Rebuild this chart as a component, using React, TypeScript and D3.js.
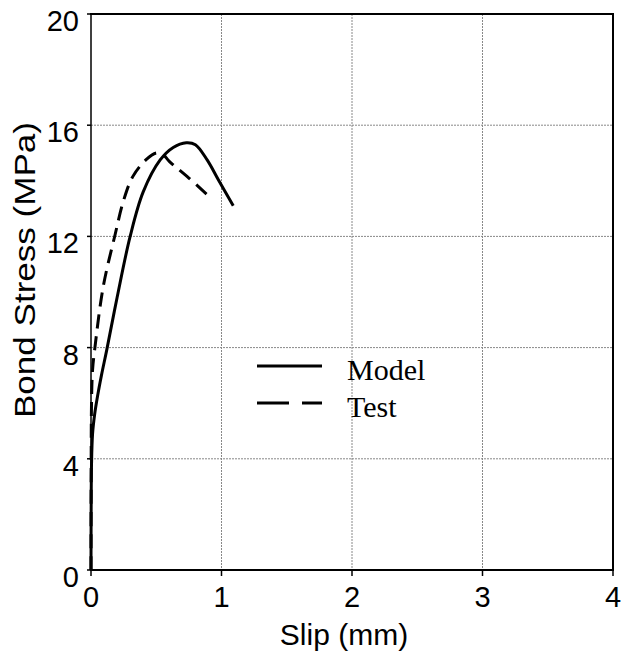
import * as d3 from 'd3'

const width = 622
const height = 664
const margin = { left: 91, right: 9, top: 14, bottom: 94 }

const xTicks = [0, 1, 2, 3, 4]
const yTicks = [0, 4, 8, 12, 16, 20]

// slip (mm) / bond stress (MPa)
const modelSlip = [0, 0.001, 0.004, 0.012, 0.028, 0.05, 0.08, 0.12, 0.2, 0.3, 0.4, 0.53, 0.63, 0.73, 0.8, 0.89, 0.98, 1.09]
const modelStress = [0, 2, 3.8, 4.9, 5.6, 6.25, 7.0, 7.9, 9.8, 12.0, 13.6, 14.75, 15.2, 15.37, 15.3, 14.75, 14.0, 13.1]

const testSlip = [0, 0.001, 0.004, 0.012, 0.03, 0.094, 0.184, 0.25, 0.32, 0.42, 0.5, 0.55, 0.6, 0.75, 0.89]
const testStress = [0, 3, 6, 7.2, 8.0, 10.2, 12.05, 13.3, 14.15, 14.75, 15.0, 14.95, 14.7, 14.1, 13.5]

const seriesNames = ['Model', 'Test']

const sans = 'Liberation Sans, Arial, sans-serif'
const serif = 'Liberation Serif, Times New Roman, serif'

export default function App() {
  const x = d3.scaleLinear().domain([0, 4]).range([margin.left, width - margin.right])
  const y = d3.scaleLinear().domain([0, 20]).range([height - margin.bottom, margin.top])

  const line = d3
    .line<[number, number]>()
    .x((d) => x(d[0]))
    .y((d) => y(d[1]))
    .curve(d3.curveCatmullRom.alpha(0.5))

  const model = modelSlip.map((s, i) => [s, modelStress[i]] as [number, number])
  const test = testSlip.map((s, i) => [s, testStress[i]] as [number, number])

  const x0 = x(0)
  const x1 = x(4)
  const y0 = y(0)
  const y1 = y(20)

  return (
    <svg
      width={width}
      height={height}
      style={{ position: 'absolute', left: 0, top: 0, background: '#fff' }}
    >
      {/* grid */}
      <g stroke="#888" strokeWidth={1} strokeDasharray="2,1">
        {xTicks.slice(1, -1).map((t) => (
          <line key={t} x1={x(t)} x2={x(t)} y1={y1} y2={y0} />
        ))}
        {yTicks.slice(1, -1).map((t) => (
          <line key={t} x1={x0} x2={x1} y1={y(t)} y2={y(t)} />
        ))}
      </g>

      {/* frame */}
      <g stroke="#000" fill="none">
        <line x1={x0} x2={x0} y1={y1} y2={y0} strokeWidth={1.5} />
        <line x1={x0 - 1} x2={x1 + 1} y1={y1} y2={y1} strokeWidth={2} />
        <line x1={x0 - 1} x2={x1 + 1} y1={y0} y2={y0} strokeWidth={2} />
        <line x1={x1} x2={x1} y1={y1} y2={y0} strokeWidth={2} />
      </g>
      <g stroke="#000" strokeWidth={1.5}>
        {xTicks.map((t) => (
          <line key={t} x1={x(t)} x2={x(t)} y1={y0} y2={y0 + 6} />
        ))}
        {yTicks.map((t) => (
          <line key={t} x1={x0 - 4} x2={x0} y1={y(t)} y2={y(t)} />
        ))}
      </g>

      {/* tick labels */}
      <g fontFamily={sans} fontSize={29} fill="#000">
        {xTicks.map((t) => (
          <text key={t} x={x(t)} y={y0 + 37} textAnchor="middle">
            {t}
          </text>
        ))}
        {yTicks.map((t) => (
          <text key={t} x={x0 - 12} y={y(t) + 17} textAnchor="end">
            {t}
          </text>
        ))}
      </g>

      {/* axis titles */}
      <text x={344} y={645} textAnchor="middle" fontFamily={sans} fontSize={30}>
        Slip (mm)
      </text>
      <text
        transform={`translate(35,270) rotate(-90)`}
        textAnchor="middle"
        fontFamily={sans}
        fontSize={30}
        textLength={296}
        lengthAdjust="spacingAndGlyphs"
      >
        Bond Stress (MPa)
      </text>

      {/* curves */}
      <path d={line(model) ?? ''} fill="none" stroke="#000" strokeWidth={3} />
      <path d={line(test) ?? ''} fill="none" stroke="#000" strokeWidth={3} strokeDasharray="14,8" />

      {/* legend */}
      <g>
        {seriesNames.map((name, i) => (
          <g key={name} transform={`translate(0,${366 + i * 37})`}>
            <line
              x1={257}
              x2={322}
              y1={0}
              y2={0}
              stroke="#000"
              strokeWidth={3}
              strokeDasharray={i === 1 ? '32,13' : undefined}
            />
            <text x={347} y={14} fontFamily={serif} fontSize={30}>
              {name}
            </text>
          </g>
        ))}
      </g>
    </svg>
  )
}
